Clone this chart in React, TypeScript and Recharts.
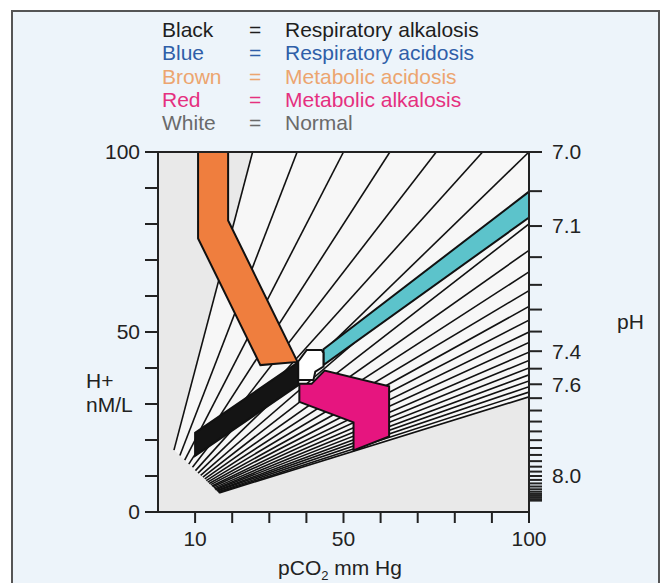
import React from 'react';
import { LineChart, Line, XAxis, YAxis, ReferenceArea, ReferenceLine } from 'recharts';

const FONT = '"Liberation Sans", Arial, Helvetica, sans-serif';

// iso-bicarbonate rays (pCO2 mm Hg -> H+ nM/L), start and end
const rayStartPco2 = [4.3, 5.9, 7.2, 8.3, 9.3, 10.1, 10.8, 11.5, 12.1, 12.6, 13.0, 13.4, 13.8, 14.2, 14.5, 14.8, 15.1, 15.3, 15.5, 15.8, 15.9, 16.2, 16.3, 16.5];
const rayStartH = [17.2, 15.7, 14.4, 13.3, 12.4, 11.5, 10.8, 10.2, 9.7, 9.2, 8.7, 8.3, 7.9, 7.6, 7.2, 7.0, 6.7, 6.4, 6.2, 6.0, 5.8, 5.6, 5.4, 5.3];
const rayEndPco2 = [25.5, 37.5, 50, 62.5, 75, 87.5, 100, 100, 100, 100, 100, 100, 100, 100, 100, 100, 100, 100, 100, 100, 100, 100, 100, 100];
const rayEndH = [100, 100, 100, 100, 100, 100, 100, 88.9, 80, 72.7, 66.7, 61.5, 57.1, 53.3, 50, 47.1, 44.4, 42.1, 40, 38.1, 36.4, 34.8, 33.3, 32];

// coloured zones, vertices as [pCO2, H+]
const metabolicAcidosis = [[10.8, 100], [18.9, 100], [18.9, 81], [37.6, 41.7], [27.6, 40.8], [10.8, 76]];
const respiratoryAcidosis = [[44.6, 45.2], [100, 89], [100, 81.8], [44.6, 40.8]];
const respiratoryAlkalosis = [[37.8, 41.6], [37.8, 35.2], [10, 15.6], [10, 22]];
const metabolicAlkalosis = [[38.1, 35.6], [41.4, 35.6], [44.9, 39.3], [62.3, 34.9], [62.3, 21], [52.7, 17.1], [52.7, 24.9], [38.1, 30.6]];
const normalZone = [[40.1, 45], [44.1, 45], [44.6, 44.2], [44.6, 40.4], [42.4, 39], [41.9, 36.7], [37.8, 36.7], [37.8, 41.8]];

const pco2Ticks = [10, 20, 30, 40, 50, 60, 70, 80, 90, 100];
const pco2Labels = [10, 50, 100];
const hTicks = [0, 10, 20, 30, 40, 50, 60, 70, 80, 90, 100];
const hLabels = [0, 50, 100];
const phTicks = [7.0, 7.05, 7.1, 7.15, 7.2, 7.25, 7.3, 7.35, 7.4, 7.45, 7.5, 7.55, 7.6, 7.65, 7.7, 7.75, 7.8, 7.85, 7.9, 7.95, 8.0, 8.05, 8.1, 8.15, 8.2, 8.25, 8.3, 8.35, 8.4, 8.45, 8.5];
const phLabels: Record<string, string> = { '7.00': '7.0', '7.10': '7.1', '7.35': '7.4', '7.45': '7.6', '8.00': '8.0' };

const legendKeys = ['Black', 'Blue', 'Brown', 'Red', 'White'];
const legendTexts = ['Respiratory alkalosis', 'Respiratory acidosis', 'Metabolic acidosis', 'Metabolic alkalosis', 'Normal'];
const legendColors = ['#1e1e1e', '#2f5ea8', '#eca56f', '#e5307f', '#6a6a6a'];

// pH tick -> H+ position on the left scale
const phTickH = phTicks.map((ph) => Math.min(100, Math.pow(10, 9 - ph)));

function zone(verts: number[][], fill: string, key: string) {
  const xs = verts.map((v) => v[0]);
  const ys = verts.map((v) => v[1]);
  const x0 = Math.min(...xs), x1 = Math.max(...xs), y0 = Math.min(...ys), y1 = Math.max(...ys);
  const shape = (p: any) => {
    const pts = verts
      .map(([vx, vy]) => `${p.x + ((vx - x0) / (x1 - x0)) * p.width},${p.y + ((y1 - vy) / (y1 - y0)) * p.height}`)
      .join(' ');
    return <polygon points={pts} fill={fill} stroke="#111" strokeWidth={2} strokeLinejoin="miter" />;
  };
  return (
    <ReferenceArea key={key} x1={x0} x2={x1} y1={y0} y2={y1} shape={shape} ifOverflow="visible" zIndex={450} />
  );
}

function fanShape(fill: string) {
  const verts = [
    [rayStartPco2[0], rayStartH[0]],
    ...rayEndPco2.map((x, i) => [x, rayEndH[i]]),
    ...rayStartPco2.map((x, i) => [x, rayStartH[i]]).reverse(),
  ];
  const xs = verts.map((v) => v[0]);
  const ys = verts.map((v) => v[1]);
  const x0 = Math.min(...xs), x1 = Math.max(...xs), y0 = Math.min(...ys), y1 = Math.max(...ys);
  const shape = (p: any) => {
    const pts = verts
      .map(([vx, vy]) => `${p.x + ((vx - x0) / (x1 - x0)) * p.width},${p.y + ((y1 - vy) / (y1 - y0)) * p.height}`)
      .join(' ');
    return <polygon points={pts} fill={fill} stroke="none" />;
  };
  return <ReferenceArea x1={x0} x2={x1} y1={y0} y2={y1} shape={shape} ifOverflow="visible" zIndex={110} />;
}

const axisStroke = { stroke: '#222', strokeWidth: 2 };
const tickFont = { fontSize: 21, fill: '#222', fontFamily: FONT };

export default function App() {
  return (
    <div style={{ position: 'absolute', left: 0, top: 0, width: 668, height: 583, overflow: 'hidden', background: '#fff', fontFamily: FONT }}>
      <div
        style={{
          position: 'absolute', left: 11, top: 10, width: 645, height: 600,
          background: '#edf4fa', borderTop: '2px solid #555', borderLeft: '2px solid #555', borderRight: '2px solid #555',
        }}
      />
      <div style={{ position: 'absolute', left: 0, top: 0 }}>
        <LineChart width={668} height={583} margin={{ top: 152, right: 79, bottom: 31, left: 98 }}>
          <ReferenceArea x1={0} x2={100} y1={0} y2={100} fill="#e9e9e9" fillOpacity={1} stroke="none" zIndex={100} />
          {fanShape('#f7f7f7')}
          {rayStartPco2.map((sx, i) => (
            <Line
              key={'ray' + i}
              data={[{ p: sx, h: rayStartH[i] }, { p: rayEndPco2[i], h: rayEndH[i] }]}
              dataKey="h"
              stroke="#111"
              strokeWidth={1.6}
              dot={false}
              activeDot={false}
              isAnimationActive={false}
            />
          ))}
          {zone(respiratoryAlkalosis, '#141414', 'ralk')}
          {zone(metabolicAcidosis, '#ef7e3e', 'macid')}
          {zone(respiratoryAcidosis, '#5cc3cb', 'racid')}
          {zone(metabolicAlkalosis, '#e6157f', 'malk')}
          {zone(normalZone, '#ffffff', 'norm')}
          <ReferenceLine y={100} stroke="#222" strokeWidth={2} zIndex={500} />
          <XAxis
            dataKey="p" type="number" domain={[0, 100]} allowDataOverflow ticks={pco2Ticks} interval={0}
            tickFormatter={(v: number) => (pco2Labels.includes(v) ? String(v) : '')}
            tickSize={11} tickMargin={8} height={40}
            axisLine={axisStroke} tickLine={axisStroke} tick={tickFont}
          />
          <YAxis
            type="number" domain={[0, 100]} allowDataOverflow ticks={hTicks} interval={0} width={60}
            tickFormatter={(v: number) => (hLabels.includes(v) ? String(v) : '')}
            tickSize={13} tickMargin={5}
            axisLine={axisStroke} tickLine={axisStroke} tick={tickFont}
          />
          <YAxis
            yAxisId="ph" orientation="right" type="number" domain={[0, 100]} allowDataOverflow ticks={phTickH} interval={0} width={60}
            tickFormatter={(v: number) => phLabels[(9 - Math.log10(v)).toFixed(2)] || ''}
            tickSize={13} tickMargin={10}
            axisLine={axisStroke} tickLine={axisStroke} tick={tickFont}
          />
        </LineChart>
      </div>
      {legendKeys.map((k, i) => (
        <div
          key={k}
          style={{ position: 'absolute', top: 18 + i * 23.3, left: 0, fontSize: 21, lineHeight: '24px', color: legendColors[i], whiteSpace: 'nowrap' }}
        >
          <span style={{ position: 'absolute', left: 162 }}>{k}</span>
          <span style={{ position: 'absolute', left: 249 }}>=</span>
          <span style={{ position: 'absolute', left: 285 }}>{legendTexts[i]}</span>
        </div>
      ))}
      <div style={{ position: 'absolute', left: 86, top: 369, fontSize: 21, lineHeight: '24px', color: '#222' }}>H+</div>
      <div style={{ position: 'absolute', left: 86, top: 393, fontSize: 21, lineHeight: '24px', color: '#222' }}>nM/L</div>
      <div style={{ position: 'absolute', left: 617, top: 310, fontSize: 21, lineHeight: '24px', color: '#222' }}>pH</div>
      <div style={{ position: 'absolute', left: 240, width: 200, top: 556, textAlign: 'center', fontSize: 21, lineHeight: '24px', color: '#222', whiteSpace: 'nowrap' }}>
        pCO<span style={{ fontSize: 13, position: 'relative', top: 5 }}>2</span> mm Hg
      </div>
    </div>
  );
}
